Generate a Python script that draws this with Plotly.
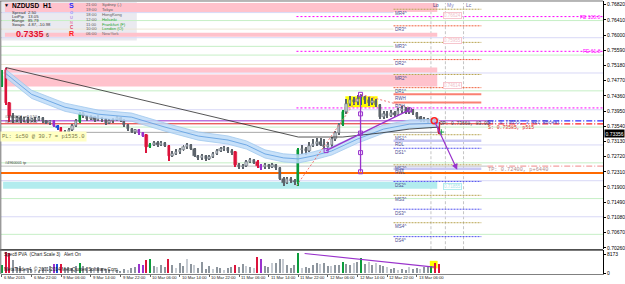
import plotly.graph_objects as go

W, H = 625, 284

# ---------------- data ----------------
bars = list(range(119))  # H1 bars, 6 Mar 2015 14:00 ... 13 Mar 2015 12:00

opens = [0.74614, 0.75070, 0.74159, 0.73810, 0.73703, 0.73757, 0.73703, 0.73730, 0.73676, 0.73730,
         0.73703, 0.73757, 0.73676, 0.73623, 0.73676, 0.73542, 0.73489, 0.73355, 0.73382, 0.73435,
         0.73542, 0.73650, 0.73864, 0.73810, 0.73730, 0.73784, 0.73703, 0.73757, 0.73730, 0.73623,
         0.73676, 0.73703, 0.73757, 0.73703, 0.73569, 0.73462, 0.73382, 0.73435, 0.73355, 0.73301,
         0.72980, 0.73033, 0.73087, 0.73033, 0.73087, 0.73006, 0.72738, 0.72792, 0.72846, 0.72899,
         0.72980, 0.73033, 0.72926, 0.72738, 0.72685, 0.72738, 0.72658, 0.72712, 0.72792, 0.72872,
         0.72926, 0.72953, 0.72872, 0.72846, 0.72497, 0.72444, 0.72470, 0.72578, 0.72631, 0.72578,
         0.72470, 0.72444, 0.72497, 0.72444, 0.72497, 0.72417, 0.72122, 0.72015, 0.72122, 0.72068,
         0.72042, 0.72899, 0.72926, 0.72872, 0.73006, 0.73060, 0.73114, 0.73033, 0.72980, 0.73033,
         0.73194, 0.73355, 0.73569, 0.73918, 0.74132, 0.74239, 0.74186, 0.74266, 0.74320, 0.74239,
         0.74159, 0.74212, 0.74105, 0.73784, 0.73864, 0.73810, 0.73891, 0.73837, 0.73944, 0.73998,
         0.73918, 0.73971, 0.73891, 0.73784, 0.73703, 0.73730, 0.73650, 0.73703, 0.73623]
highs = [0.75070, 0.75124, 0.74186, 0.73891, 0.73810, 0.73810, 0.73784, 0.73784, 0.73757, 0.73784,
         0.73810, 0.73784, 0.73703, 0.73703, 0.73703, 0.73569, 0.73516, 0.73435, 0.73489, 0.73596,
         0.73730, 0.73918, 0.73918, 0.73837, 0.73837, 0.73810, 0.73837, 0.73784, 0.73757, 0.73730,
         0.73757, 0.73810, 0.73784, 0.73730, 0.73596, 0.73489, 0.73462, 0.73462, 0.73382, 0.73328,
         0.73087, 0.73140, 0.73140, 0.73140, 0.73114, 0.73033, 0.72872, 0.72926, 0.72953, 0.73033,
         0.73087, 0.73060, 0.72953, 0.72765, 0.72792, 0.72765, 0.72765, 0.72846, 0.72926, 0.72980,
         0.73006, 0.72980, 0.72926, 0.72872, 0.72551, 0.72524, 0.72631, 0.72685, 0.72658, 0.72631,
         0.72524, 0.72551, 0.72524, 0.72551, 0.72524, 0.72444, 0.72176, 0.72176, 0.72176, 0.72122,
         0.72953, 0.73033, 0.72980, 0.73114, 0.73194, 0.73221, 0.73221, 0.73194, 0.73114, 0.73248,
         0.73408, 0.73623, 0.73971, 0.74266, 0.74346, 0.74320, 0.74373, 0.74400, 0.74346, 0.74320,
         0.74293, 0.74266, 0.74132, 0.73944, 0.73944, 0.73971, 0.73944, 0.74025, 0.74078, 0.74052,
         0.74052, 0.73998, 0.73918, 0.73810, 0.73784, 0.73757, 0.73730, 0.73730, 0.73650]
lows = [0.74588, 0.74105, 0.73650, 0.73623, 0.73650, 0.73623, 0.73650, 0.73623, 0.73650, 0.73650,
        0.73676, 0.73623, 0.73596, 0.73569, 0.73516, 0.73435, 0.73301, 0.73328, 0.73355, 0.73408,
        0.73516, 0.73623, 0.73757, 0.73676, 0.73703, 0.73650, 0.73676, 0.73650, 0.73569, 0.73596,
        0.73623, 0.73676, 0.73650, 0.73516, 0.73408, 0.73355, 0.73328, 0.73301, 0.73248, 0.72819,
        0.72953, 0.73006, 0.72980, 0.73006, 0.72980, 0.72604, 0.72712, 0.72765, 0.72792, 0.72872,
        0.72926, 0.72899, 0.72712, 0.72631, 0.72631, 0.72604, 0.72631, 0.72685, 0.72765, 0.72846,
        0.72872, 0.72819, 0.72765, 0.72444, 0.72390, 0.72390, 0.72444, 0.72551, 0.72524, 0.72417,
        0.72363, 0.72390, 0.72390, 0.72417, 0.72363, 0.72095, 0.71934, 0.71988, 0.72015, 0.71961,
        0.71934, 0.72792, 0.72765, 0.72846, 0.72980, 0.73006, 0.73006, 0.72926, 0.72872, 0.72980,
        0.73140, 0.73301, 0.73542, 0.73864, 0.74078, 0.74105, 0.74105, 0.74105, 0.74132, 0.74078,
        0.74105, 0.74052, 0.73730, 0.73730, 0.73757, 0.73784, 0.73784, 0.73810, 0.73891, 0.73864,
        0.73864, 0.73837, 0.73730, 0.73650, 0.73650, 0.73623, 0.73623, 0.73596, 0.73328]
closes = [0.74882, 0.74159, 0.73810, 0.73703, 0.73757, 0.73703, 0.73730, 0.73676, 0.73730, 0.73703,
          0.73757, 0.73676, 0.73623, 0.73676, 0.73542, 0.73489, 0.73328, 0.73382, 0.73435, 0.73542,
          0.73676, 0.73864, 0.73810, 0.73730, 0.73784, 0.73703, 0.73757, 0.73730, 0.73623, 0.73676,
          0.73703, 0.73757, 0.73703, 0.73569, 0.73462, 0.73382, 0.73435, 0.73355, 0.73274, 0.72980,
          0.73033, 0.73087, 0.73033, 0.73087, 0.73006, 0.72738, 0.72792, 0.72846, 0.72899, 0.72980,
          0.73033, 0.72926, 0.72738, 0.72685, 0.72738, 0.72658, 0.72712, 0.72792, 0.72872, 0.72926,
          0.72953, 0.72872, 0.72819, 0.72497, 0.72444, 0.72470, 0.72578, 0.72631, 0.72551, 0.72470,
          0.72417, 0.72497, 0.72444, 0.72497, 0.72417, 0.72122, 0.72015, 0.72122, 0.72068, 0.72042,
          0.72899, 0.72926, 0.72872, 0.73006, 0.73060, 0.73114, 0.73033, 0.72980, 0.73033, 0.73194,
          0.73355, 0.73569, 0.73918, 0.74132, 0.74239, 0.74186, 0.74266, 0.74320, 0.74239, 0.74159,
          0.74212, 0.74105, 0.73784, 0.73864, 0.73810, 0.73891, 0.73837, 0.73944, 0.73998, 0.73918,
          0.73971, 0.73891, 0.73784, 0.73703, 0.73730, 0.73676, 0.73703, 0.73623, 0.73356]

# PVA bar classes: n normal, g green climax, r red climax, p purple, b blue
bar_type = list("grrnnnnnnn" "nnnnpbrnnn" "ngnnnnnnnn" "nnnnnnnppr" "gnnnnrnnnn"
                "nnnnnnnnnn" "nnnrnnnnnr" "pnnnnnnnnn" "gnnnnnnnnn" "nngnnnngnn"
                "nnnnnnnnnn" "nnnnnngrr")

volumes = [3400, 9000, 8600, 5600, 2600, 3000, 1700, 2200, 1500, 1300,
           900, 1900, 2400, 2800, 3900, 3900, 3900, 2000, 2600, 2300,
           2900, 4300, 3000, 2700, 2300, 1600, 2600, 2000, 1500, 1800,
           1100, 1300, 800, 1600, 1200, 1900, 2500, 3900, 3300, 5700,
           6000, 2900, 2700, 3500, 2400, 6000, 3400, 2200, 4300, 3000,
           6000, 4000, 3200, 2100, 4500, 1700, 2800, 1500, 2600, 1900,
           1200, 2300, 2700, 3600, 2600, 3800, 2900, 2400, 2200, 6900,
           6000, 3100, 2700, 4200, 4300, 6000, 6000, 3400, 2300, 3600,
           8600, 2300, 2600, 2000, 3300, 4200, 3900, 4300, 3000, 2800,
           3400, 3600, 4700, 3900, 3300, 4200, 4500, 6500, 3800, 4700,
           3500, 4200, 3500, 3000, 2400, 1800, 2200, 1300, 1800, 1100,
           2400, 1500, 2000, 1800, 2400, 2600, 3000, 4300, 3900]
light_volume_bars = [6, 9, 12, 25, 30, 34, 42, 47, 50, 52, 57, 60, 66, 68, 73, 76, 81,
                     86, 89, 95, 99, 101, 104, 107, 110, 113]

price_ticks = [0.76820, 0.76410, 0.76000, 0.75590, 0.75180, 0.74770, 0.74360, 0.73950, 0.73540,
               0.73130, 0.72720, 0.72310, 0.71900, 0.71490, 0.71080, 0.70670, 0.70260]
current_price = 0.73356
volume_ticks = [0, 8173]

time_tick_bars = [0, 8, 16, 24, 32, 40, 48, 56, 64, 72, 80, 88, 96, 104, 112]
time_tick_labels = ["6 Mar 2015", "6 Mar 22:00", "9 Mar 06:00", "9 Mar 14:00", "9 Mar 22:00",
                    "10 Mar 06:00", "10 Mar 14:00", "10 Mar 22:00", "11 Mar 06:00", "11 Mar 14:00",
                    "11 Mar 22:00", "12 Mar 06:00", "12 Mar 14:00", "12 Mar 22:00", "13 Mar 06:00"]

# moving-average channel (blue) and slow MA (black)
ma_bars = [1, 5, 8, 17, 26, 35, 44, 53, 61, 66, 71, 76, 80, 84, 89, 96, 103, 110, 118]
ma_mid = [0.74963, 0.74641, 0.74400, 0.74052, 0.73864, 0.73784, 0.73516, 0.73274, 0.73167, 0.73033,
          0.72792, 0.72685, 0.72658, 0.72738, 0.72872, 0.73194, 0.73462, 0.73596, 0.73623]
ma_upper = [0.75073, 0.74751, 0.74510, 0.74162, 0.73974, 0.73894, 0.73626, 0.73384, 0.73277, 0.73143,
            0.72902, 0.72795, 0.72768, 0.72848, 0.72982, 0.73304, 0.73572, 0.73706, 0.73733]
ma_lower = [0.74853, 0.74531, 0.74290, 0.73942, 0.73754, 0.73674, 0.73406, 0.73164, 0.73057, 0.72923,
            0.72682, 0.72575, 0.72548, 0.72628, 0.72762, 0.73084, 0.73352, 0.73486, 0.73513]
slow_ma_bars = [1, 80, 92, 102, 110, 118]
slow_ma = [0.75124, 0.73248, 0.73248, 0.73355, 0.73462, 0.73516]

# supply (pink) / demand (cyan) zones
zone_x0 = [0.8, 0.8, 0.8, 0.8, 0.3]
zone_x1 = [117.5, 117.5, 117.5, 117.5, 117.5]
zone_lo = [0.76624, 0.75955, 0.74990, 0.74614, 0.71855]
zone_hi = [0.76866, 0.76062, 0.75124, 0.74936, 0.72042]
zone_kind = ["supply", "supply", "supply", "supply", "demand"]
zone_labels = ["0.76624", "0.75955", "0.74614", "0.71855"]
zone_label_prices = [0.76520, 0.75850, 0.74640, 0.71920]

# round-number levels (full width)
round_levels = [0.76391, 0.75928, 0.75459, 0.74976, 0.74494, 0.73985, 0.73516, 0.73034,
                0.72551, 0.72069, 0.71587, 0.71096, 0.70622]
round_kind = ["g", "l", "g", "l", "g", "l", "g", "l", "g", "l", "g", "l", "g"]
faint_levels = [0.76606, 0.76161, 0.75695, 0.75204]
faint_kind = ["l", "b", "g", "b"]

# pivot levels
pivot_names = ["MR4^", "DR3^", "MR3^", "DR2^", "MR2^", "DR1^", "RWH", "RDH", "MS1^", "RDL",
               "DS1^", "MS2^", "RWL", "DS2^", "MS3^", "DS3^", "MS4^", "DS4^"]
pivot_prices = [0.76697, 0.76249, 0.75802, 0.75338, 0.74936, 0.74580, 0.74400, 0.74178, 0.73310,
                0.73149, 0.72945, 0.72498, 0.72390, 0.72050, 0.71675, 0.71300, 0.70935, 0.70560]
pivot_kind = ["M", "D", "M", "D", "M", "D", "RH", "RH", "M", "RL",
              "S", "M", "RL", "S", "M", "S", "M", "S"]
pivot_x0, pivot_x1 = 105.7, 129.4

# Fibonacci expansion levels
fe_prices = [0.76498, 0.75561, 0.74033]
fe_labels = ["FE 100.0", "FE 61.8", ""]
fe_x0 = 79.5

# trade lines
order_prices = [0.73685, 0.73605, 0.72463]
order_split_bar = 131
tp_line_price = 0.72275
gray_line_price = 0.73374
by_text_price = 0.73650
sl_text_price = 0.73500
tp_text_price = 0.72363

# session vertical lines
session_bars = [115.8, 119.7, 124.6]
session_labels = ["Lo", "My", "Lc"]

# drawing objects
fib_x = [79.5, 96.8, 110.0]
fib_y = [0.71934, 0.74400, 0.74043]
vert_x = [96.8, 96.8, 96.8, 96.8, 96.8]
vert_y = [0.74400, 0.73873, 0.73355, 0.72827, 0.72310]
diag_x = [87.5, 110.0]
diag_y = [0.72881, 0.73980]
arrow_from = (116.7, 0.73685)
arrow_to = (122.9, 0.72363)
plus_mark = (118.6, 0.73382)
highlight_x = [92.7, 101.4]
highlight_y = [0.74052, 0.74346]
vol_line_x = [81.7, 116.7]
vol_line_y = [8470, 2580]
vol_highlight_x = [115.5, 117.6]
vol_highlight_y = [2000, 5300]

# info panel
info_rows = [("Spread", "2.50"), ("LotPip", "13.05"), ("Range", "85.79"), ("Swaps", "4.87, -10.98")]
session_letters = ["S", "O", "U", "N", "C", "R"]
city_times = ["21:00", "19:00", "18:00", "12:00", "11:00", "10:00", "06:00"]
city_names = ["Sydney (-)", "Tokyo", "HongKong", "Helsinki", "Frankfurt (F)", "London (O)", "NewYork"]

# ---------------- layout helpers ----------------
X_LEFT, X_RIGHT = -0.27, 162.26
Y_MAIN = [0.70220, 0.76919]
Y_VOL = [-430, 9893]


def fx(px):
    return px / W


def fy(py):
    return 1 - py / H


FONT = "Liberation Sans, Arial, sans-serif"
MONO = "Liberation Mono, Courier New, monospace"
CLR = {'g': '#0b9b3b', 'r': '#dc143c', 'p': '#9a32cd', 'b': '#1e4fdc'}

fig = go.Figure()

# MA channel
fig.add_trace(go.Scatter(x=ma_bars, y=ma_lower, mode='lines', line=dict(color='#9fc8ee', width=0.8),
                         hoverinfo='skip'))
fig.add_trace(go.Scatter(x=ma_bars, y=ma_upper, mode='lines', line=dict(color='#9fc8ee', width=0.8),
                         fill='tonexty', fillcolor='rgba(190,220,248,0.85)', hoverinfo='skip'))
fig.add_trace(go.Scatter(x=ma_bars, y=ma_mid, mode='lines', line=dict(color='#5a9ce0', width=0.8),
                         hoverinfo='skip'))
fig.add_trace(go.Scatter(x=slow_ma_bars, y=slow_ma, mode='lines', line=dict(color='#2a2a2a', width=0.8),
                         hoverinfo='skip'))

# candles
body_col, wick_col = [], []
for o, c, t in zip(opens, closes, bar_type):
    if t == 'n':
        body_col.append('#bcc2ca' if c >= o else '#5d646c')
        wick_col.append('#5d646c')
    else:
        body_col.append(CLR[t])
        wick_col.append(CLR[t])

fig.add_trace(go.Bar(x=bars, y=[h - l for h, l in zip(highs, lows)], base=lows, width=0.27,
                     marker=dict(color=wick_col, line=dict(width=0)), hoverinfo='skip'))
fig.add_trace(go.Bar(x=bars, y=[max(abs(c - o), 0.00005) for o, c in zip(opens, closes)],
                     base=[min(o, c) for o, c in zip(opens, closes)], width=0.62,
                     marker=dict(color=body_col, line=dict(color=wick_col, width=0.5)), hoverinfo='skip'))

# drawing tools
fig.add_trace(go.Scatter(x=fib_x, y=fib_y, mode='lines', line=dict(color='#f07878', width=1, dash='2px,2px'),
                         hoverinfo='skip'))
fig.add_trace(go.Scatter(x=vert_x, y=vert_y, mode='lines+markers', line=dict(color='#9932cc', width=1.3),
                         marker=dict(symbol='square-open', size=4, color='#9932cc', line=dict(width=1)),
                         hoverinfo='skip'))
fig.add_trace(go.Scatter(x=diag_x, y=diag_y, mode='lines+markers', line=dict(color='#9932cc', width=1.3),
                         marker=dict(symbol='square-open', size=4, color='#9932cc', line=dict(width=1)),
                         hoverinfo='skip'))
fig.add_trace(go.Scatter(x=[arrow_from[0]], y=[arrow_from[1]], mode='markers',
                         marker=dict(symbol='circle-open', size=6, color='#ff2020', line=dict(width=1.5)),
                         hoverinfo='skip'))
fig.add_trace(go.Scatter(x=[plus_mark[0]], y=[plus_mark[1]], mode='markers',
                         marker=dict(symbol='cross-thin', size=4, line=dict(color='#10a040', width=1)),
                         hoverinfo='skip'))

# volume
vol_col = []
for i, t in enumerate(bar_type):
    if t == 'n':
        vol_col.append('#c6cbd2' if i in light_volume_bars else '#8e969e')
    else:
        vol_col.append(CLR[t])
fig.add_trace(go.Bar(x=bars, y=volumes, width=0.38, marker=dict(color=vol_col, line=dict(width=0)),
                     yaxis='y2', hoverinfo='skip'))
fig.add_trace(go.Scatter(x=vol_line_x, y=vol_line_y, mode='lines', line=dict(color='#9932cc', width=1.2),
                         yaxis='y2', hoverinfo='skip'))

shapes = []


def hseg(x0, x1, y, color, width=1, dash='solid', yref='y'):
    shapes.append(dict(type='line', xref='x', yref=yref, x0=x0, x1=x1, y0=y, y1=y,
                       line=dict(color=color, width=width, dash=dash), layer='below'))


# round and faint levels
for y, k in zip(round_levels, round_kind):
    hseg(X_LEFT, X_RIGHT, y, '#c6efc6' if k == 'g' else '#d8d8f6', 1)
for y, k in zip(faint_levels, faint_kind):
    hseg(X_LEFT, pivot_x0, y, {'g': '#c6efc6', 'l': '#d8d8f6', 'b': '#ece6d2'}[k], 1)

# zones
for x0, x1, lo, hi, k in zip(zone_x0, zone_x1, zone_lo, zone_hi, zone_kind):
    shapes.append(dict(type='rect', xref='x', yref='y', x0=x0, x1=x1, y0=lo, y1=hi,
                       fillcolor='#ffc2cc' if k == 'supply' else '#b2ecee', line=dict(width=0), layer='below'))

# highlight rectangle (yellow)
shapes.append(dict(type='rect', xref='x', yref='y', x0=highlight_x[0], x1=highlight_x[1],
                   y0=highlight_y[0], y1=highlight_y[1], fillcolor='#ffff00', line=dict(width=0), layer='below'))
shapes.append(dict(type='rect', xref='x', yref='y2', x0=vol_highlight_x[0], x1=vol_highlight_x[1],
                   y0=vol_highlight_y[0], y1=vol_highlight_y[1], fillcolor='#ffff00', line=dict(width=0),
                   layer='below'))

# FE levels
for y in fe_prices:
    hseg(fe_x0, X_RIGHT, y, '#ff00ff', 1, '2px,2px')

# pivot levels
pstyle = {'M': ('#b8a450', 1, '2px,1px'), 'D': ('#f0603c', 1, '2px,1px'),
          'RH': ('#fa8072', 2, 'solid'), 'RL': ('#c8c8f4', 2.5, 'solid'),
          'S': ('#5050f0', 1, '2px,1px')}
for y, k in zip(pivot_prices, pivot_kind):
    c, w, d = pstyle[k]
    hseg(pivot_x0, pivot_x1, y, c, w, d)

# trade lines
hseg(X_LEFT, order_split_bar, order_prices[0], '#9932cc', 1)
hseg(order_split_bar, X_RIGHT, order_prices[0], '#3030ff', 1.2, '6px,2px,1px,2px')
hseg(X_LEFT, order_split_bar, order_prices[1], '#e02020', 1)
hseg(order_split_bar, X_RIGHT, order_prices[1], '#ff2020', 1.2, '6px,2px,1px,2px')
hseg(X_LEFT, order_split_bar, order_prices[2], '#c0c0c0', 1)
hseg(order_split_bar, X_RIGHT, order_prices[2], '#f4a0a0', 1.2, '6px,2px,1px,2px')
hseg(X_LEFT, zone_x1[0], gray_line_price, '#a8a8a8', 1)
hseg(X_LEFT, X_RIGHT, tp_line_price, '#ff6a00', 2)

# session vertical lines
for xb in session_bars:
    shapes.append(dict(type='line', xref='x', yref='paper', x0=xb, x1=xb, y0=fy(251), y1=fy(3),
                       line=dict(color='#c4c4c4', width=1, dash='3px,2px'), layer='below'))

# info panel background
shapes.append(dict(type='rect', xref='paper', yref='paper', x0=fx(2), x1=fx(137), y0=fy(40.7), y1=fy(2),
                   fillcolor='#eaeaf0', line=dict(width=0), layer='below'))
# borders
shapes.append(dict(type='line', xref='paper', yref='paper', x0=0, x1=fx(604), y0=fy(251.6), y1=fy(251.6),
                   line=dict(color='#505050', width=1.6)))
shapes.append(dict(type='line', xref='paper', yref='paper', x0=0, x1=fx(604), y0=fy(1), y1=fy(1),
                   line=dict(color='#707070', width=1)))
shapes.append(dict(type='line', xref='paper', yref='paper', x0=fx(0.8), x1=fx(0.8), y0=fy(276), y1=fy(1),
                   line=dict(color='#707070', width=1)))

ann = []


def txt(x, y, s, size=5, color='black', xref='paper', yref='paper', xanchor='left', family=FONT, **kw):
    ann.append(dict(x=x, y=y, xref=xref, yref=yref, text=s, showarrow=False, xanchor=xanchor,
                    yanchor=kw.pop('yanchor', 'middle'), font=dict(size=size, color=color, family=family),
                    borderpad=0, **kw))


# x-axis labels
for b, lab in zip(time_tick_bars, time_tick_labels):
    txt(b, fy(279.5), lab, 4.2, '#202020', xref='x', xshift=1)

# pivot labels
for y, name in zip(pivot_prices, pivot_names):
    txt(pivot_x0, y, name, 4.5, '#4a4a90', xref='x', yref='y', yanchor='top', yshift=-0.5)

# FE labels
for y, lab in zip(fe_prices, fe_labels):
    if lab:
        txt(fx(603), y, lab, 5, '#ff00ff', yref='y', xanchor='right')

# zone price boxes (faint)
for lab, y, k in zip(zone_labels, zone_label_prices, ["s", "s", "s", "d"]):
    ann.append(dict(x=121.6, y=y, xref='x', yref='y', text=lab, showarrow=False,
                    font=dict(size=4.5, color='#f0c0c8' if k == 's' else '#a8e4e8', family=FONT),
                    bgcolor='white', bordercolor='#f6c6ce' if k == 's' else '#b2ecee', borderwidth=1,
                    borderpad=0))

# session labels
for xb, lab, c in zip(session_bars, session_labels, ['#404080', '#8080c0', '#6060a0']):
    txt(xb, fy(5), lab, 5, c, xref='x', xshift=1)

# trade texts
txt(117.9, order_prices[1], "OP: 0.73668, 83.00", 4.6, '#404040', xref='x', yref='y', family=MONO)
txt(order_split_bar, by_text_price, "BY: 0.73655, 3.481 Bbceal", 4.8, '#4a40c0', xref='x', yref='y',
    family=MONO)
txt(order_split_bar, sl_text_price, "S: 0.73585, p515", 4.8, '#e02020', xref='x', yref='y', family=MONO)
txt(order_split_bar, tp_text_price, "TP: 0.72400, p+6440", 5.3, '#b08a8a', xref='x', yref='y', family=MONO)
txt(fx(4), 0.73784, "#4960004 sell 0.50", 3.8, '#404040', yref='y')
txt(fx(4), 0.73660, "#4960005 sell 0.50", 3.8, '#404040', yref='y')
txt(fx(4), 0.72551, "#4960001 tp", 3.8, '#404040', yref='y')
ann.append(dict(x=fx(0), y=0.73274, xref='paper', yref='y', text="PL: 1c50 @ 30.7 = p1535.0",
                showarrow=False, xanchor='left', font=dict(size=5.5, color='#7a7a48', family=MONO),
                bgcolor='#ffffc4', borderpad=1))

# current price tag
ann.append(dict(x=fx(605), y=current_price, xref='paper', yref='y', text=f"{current_price:.5f}",
                showarrow=False, xanchor='left', font=dict(size=5, color='white', family=FONT),
                bgcolor='black', borderpad=0.5))

# volume panel texts
txt(fx(3), fy(256.7), "Spec8 PVA  (Chart Scale 3)   Alert On", 4.6, '#202020')
txt(fx(3), fy(271), "MetaTrader 4, © 2001-2014 MetaQuotes Software Corp.", 4.6, '#202020')

# info panel texts
txt(fx(3), fy(5.5), "▼", 5, 'black')
txt(fx(11), fy(5.8), "<b>NZDUSD</b>", 6.5, 'black')
txt(fx(42), fy(5.8), "<b>H1</b>", 6.5, 'black')
for k, (lab, val) in enumerate(info_rows):
    yy = [12.7, 16.7, 21.0, 25.0][k]
    txt(fx(11), fy(yy), lab, 4.2, '#303030')
    txt(fx(27), fy(yy), val, 4.2, '#303030')
txt(fx(15), fy(34), "<b>0.7335</b>", 9, '#e01030')
txt(fx(45.5), fy(35.5), "6", 5, '#303030')
letter_y = [5.7, 12.5, 17.5, 22.5, 28.0, 34.0]
letter_c = ['#2a2aff', '#8f8fff', '#b48fe6', '#e48fb4', '#e04060', '#ff1a1a']
letter_s = [7, 4, 4, 4, 4.5, 7]
for L, yy, c, s in zip(session_letters, letter_y, letter_c, letter_s):
    txt(fx(72), fy(yy), f"<b>{L}</b>", s, c, xanchor='center')
city_y = [5.0, 9.5, 14.8, 19.6, 24.2, 29.2, 34.2]
city_c = ['#606060', '#606060', '#606060', '#20a030', '#20a030', '#20a030', '#707070']
for t, n, yy, c in zip(city_times, city_names, city_y, city_c):
    txt(fx(85), fy(yy), t, 4.2, '#606060')
    txt(fx(101), fy(yy), n, 4.2, c)

# arrow
ann.append(dict(x=arrow_to[0], y=arrow_to[1], ax=arrow_from[0], ay=arrow_from[1], xref='x', yref='y',
                axref='x', ayref='y', text='', showarrow=True, arrowhead=2, arrowsize=1, arrowwidth=1.2,
                arrowcolor='#9932cc'))

fig.update_layout(
    width=W, height=H, margin=dict(l=0, r=0, t=0, b=0),
    paper_bgcolor='white', plot_bgcolor='white', showlegend=False, barmode='overlay', bargap=0,
    font=dict(family=FONT),
    xaxis=dict(domain=[fx(1), fx(604)], range=[X_LEFT, X_RIGHT], anchor='y2', showgrid=False, zeroline=False,
               showticklabels=False, ticks='outside', ticklen=2, tickcolor='#606060', tickvals=time_tick_bars,
               showline=True, linecolor='#808080', linewidth=1),
    yaxis=dict(domain=[fy(251), fy(1)], range=Y_MAIN, side='right', anchor='x', showgrid=False,
               zeroline=False, tickvals=price_ticks, ticktext=[f"{v:.5f}" for v in price_ticks],
               ticks='outside', ticklen=2, tickcolor='black', tickfont=dict(size=5, color='black'),
               showline=True, linecolor='black', linewidth=1),
    yaxis2=dict(domain=[fy(276), fy(252)], range=Y_VOL, side='right', anchor='x', showgrid=False,
                zeroline=False, tickvals=volume_ticks, ticktext=[str(v) for v in volume_ticks],
                ticks='outside', ticklen=2, tickcolor='black', tickfont=dict(size=5, color='black'),
                showline=True, linecolor='black', linewidth=1),
    shapes=shapes, annotations=ann,
)

fig.write_html("out.html")
